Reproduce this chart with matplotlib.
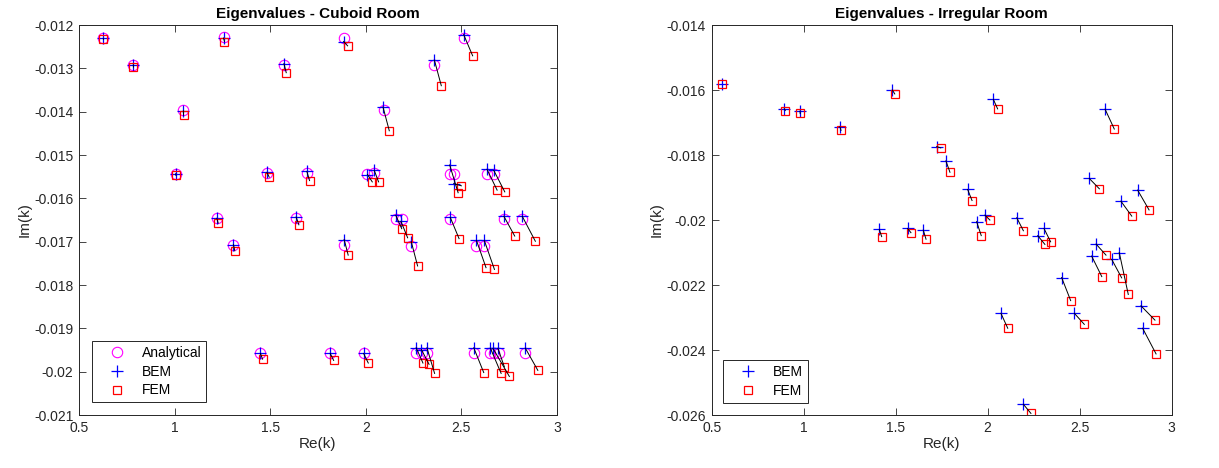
import numpy as np
import matplotlib
matplotlib.use('Agg')
import matplotlib.pyplot as plt
from matplotlib.ticker import FuncFormatter

plt.rcParams['font.family'] = ['Liberation Sans', 'DejaVu Sans']
plt.rcParams['axes.unicode_minus'] = False

# cuboid room: analytical, BEM, FEM eigenvalues
cub_ana_re = [0.627, 0.784, 1.046, 1.256, 1.570, 1.884, 2.093, 2.355, 2.512,
              1.006, 1.221, 1.308, 1.483, 1.636, 1.692, 1.887, 2.009, 2.044,
              2.157, 2.192, 2.238, 2.439, 2.460, 2.442, 2.634, 2.669, 2.579,
              2.620, 2.722, 2.818, 1.449, 1.814, 1.989, 2.264, 2.294, 2.320,
              2.565, 2.652, 2.669, 2.695, 2.835]
cub_ana_im = [-0.01231, -0.01292, -0.01396, -0.01228, -0.01292, -0.01229, -0.01396, -0.01292, -0.01229,
              -0.01543, -0.01645, -0.01708, -0.01541, -0.01645, -0.01541, -0.01708, -0.01543, -0.01541,
              -0.01647, -0.01647, -0.01709, -0.01543, -0.01543, -0.01647, -0.01543, -0.01543, -0.01710,
              -0.01710, -0.01647, -0.01647, -0.01958, -0.01958, -0.01958, -0.01958, -0.01958, -0.01958,
              -0.01958, -0.01958, -0.01958, -0.01958, -0.01958]
cub_bem_re = [0.627, 0.784, 1.046, 1.256, 1.572, 1.884, 2.090, 2.359, 2.512,
              1.006, 1.221, 1.308, 1.483, 1.636, 1.692, 1.887, 2.009, 2.044,
              2.157, 2.184, 2.238, 2.439, 2.460, 2.442, 2.634, 2.669, 2.579,
              2.620, 2.722, 2.818, 1.449, 1.814, 1.989, 2.264, 2.291, 2.320,
              2.565, 2.652, 2.665, 2.691, 2.835]
cub_bem_im = [-0.01231, -0.01292, -0.01398, -0.01230, -0.01289, -0.01238, -0.01389, -0.01281, -0.01222,
              -0.01543, -0.01646, -0.01707, -0.01540, -0.01643, -0.01538, -0.01695, -0.01545, -0.01535,
              -0.01639, -0.01653, -0.01700, -0.01523, -0.01566, -0.01644, -0.01533, -0.01535, -0.01697,
              -0.01697, -0.01641, -0.01641, -0.01958, -0.01958, -0.01958, -0.01945, -0.01949, -0.01945,
              -0.01945, -0.01946, -0.01946, -0.01946, -0.01946]
cub_fem_re = [0.628, 0.785, 1.047, 1.261, 1.584, 1.905, 2.123, 2.395, 2.559,
              1.007, 1.228, 1.315, 1.495, 1.650, 1.706, 1.908, 2.034, 2.067,
              2.188, 2.219, 2.271, 2.483, 2.500, 2.488, 2.687, 2.727, 2.629,
              2.673, 2.779, 2.887, 1.460, 1.832, 2.013, 2.299, 2.331, 2.360,
              2.617, 2.708, 2.751, 2.725, 2.900]
cub_fem_im = [-0.01233, -0.01297, -0.01408, -0.01238, -0.01310, -0.01248, -0.01444, -0.01340, -0.01271,
              -0.01547, -0.01657, -0.01721, -0.01551, -0.01661, -0.01559, -0.01731, -0.01562, -0.01562,
              -0.01670, -0.01691, -0.01756, -0.01587, -0.01571, -0.01693, -0.01581, -0.01585, -0.01760,
              -0.01764, -0.01687, -0.01699, -0.01971, -0.01974, -0.01980, -0.01980, -0.01983, -0.02004,
              -0.02002, -0.02004, -0.02011, -0.01989, -0.01997]

# irregular room: BEM, FEM eigenvalues
irr_bem_re = [0.554, 0.895, 0.980, 1.197, 1.482, 2.031, 2.638, 1.723, 1.773, 1.891,
              1.940, 1.985, 1.411, 1.565, 1.650, 2.158, 2.272, 2.306, 2.402, 2.552,
              2.589, 2.565, 2.674, 2.715, 2.724, 2.815, 2.833, 2.072, 2.471, 2.842, 2.194]
irr_bem_im = [-0.01582, -0.01658, -0.01665, -0.01713, -0.01600, -0.01629, -0.01659, -0.01774, -0.01818, -0.01906,
              -0.02005, -0.01985, -0.02029, -0.02026, -0.02031, -0.01993, -0.02048, -0.02026, -0.02177, -0.01872,
              -0.02074, -0.02111, -0.02121, -0.02100, -0.01942, -0.01908, -0.02264, -0.02287, -0.02287, -0.02333, -0.02567]
irr_fem_re = [0.554, 0.900, 0.981, 1.203, 1.495, 2.054, 2.688, 1.745, 1.795, 1.915,
              1.965, 2.012, 1.424, 1.583, 1.665, 2.194, 2.311, 2.342, 2.451, 2.607,
              2.643, 2.620, 2.728, 2.764, 2.783, 2.877, 2.909, 2.109, 2.525, 2.915, 2.235]
irr_fem_im = [-0.01582, -0.01663, -0.01672, -0.01724, -0.01612, -0.01658, -0.01720, -0.01778, -0.01853, -0.01940,
              -0.02048, -0.02000, -0.02051, -0.02039, -0.02059, -0.02033, -0.02075, -0.02067, -0.02248, -0.01904,
              -0.02108, -0.02174, -0.02178, -0.02229, -0.01988, -0.01969, -0.02308, -0.02333, -0.02321, -0.02412, -0.02595]

gray = '#262626'
fig = plt.figure(figsize=(12.19, 4.68), dpi=100)
ax1 = fig.add_axes([0.0648, 0.1132, 0.3921, 0.8333])
ax2 = fig.add_axes([0.5838, 0.1132, 0.3774, 0.8333])


def style(ax, yticks, title):
    ax.set_xlim(0.5, 3)
    ax.set_xticks([0.5, 1, 1.5, 2, 2.5, 3])
    ax.xaxis.set_major_formatter(FuncFormatter(lambda v, p: '%g' % v))
    ax.set_ylim(yticks[-1], yticks[0])
    ax.set_yticks(yticks)
    ax.yaxis.set_major_formatter(FuncFormatter(lambda v, p: '%g' % round(v, 4)))
    ax.tick_params(direction='in', length=5, width=0.6, top=True, right=True,
                   labelsize=10, colors=gray, pad=4)
    for s in ax.spines.values():
        s.set_color(gray)
        s.set_linewidth(0.7)
    ax.set_xlabel('Re(k)', fontsize=11, color=gray, labelpad=2)
    ax.set_ylabel('Im(k)', fontsize=11, color=gray, labelpad=2)
    ax.set_title(title, fontsize=11, fontweight='bold', pad=5)


def links(ax, x0, y0, x1, y1):
    # BEM -> FEM connectors
    for a, b, c, d in zip(x0, y0, x1, y1):
        ax.plot([a, c], [b, d], '-', color='k', lw=0.7, zorder=4)


ax1.plot(cub_ana_re, cub_ana_im, 'o', mfc='none', mec='#ff00ff', ms=7.5, mew=0.8, ls='none', label='Analytical')
ax1.plot(cub_bem_re, cub_bem_im, '+', color='#0000ff', ms=9, mew=0.9, ls='none', label='BEM')
ax1.plot(cub_fem_re, cub_fem_im, 's', mfc='none', mec='#ff0000', ms=5.5, mew=0.9, ls='none', label='FEM')
links(ax1, cub_bem_re, cub_bem_im, cub_fem_re, cub_fem_im)
style(ax1, [-0.012 - 0.001 * i for i in range(10)], 'Eigenvalues - Cuboid Room')

ax2.plot(irr_bem_re, irr_bem_im, '+', color='#0000ff', ms=9, mew=0.9, ls='none', label='BEM')
ax2.plot(irr_fem_re, irr_fem_im, 's', mfc='none', mec='#ff0000', ms=5.5, mew=0.9, ls='none', label='FEM')
links(ax2, irr_bem_re, irr_bem_im, irr_fem_re, irr_fem_im)
style(ax2, [-0.014 - 0.002 * i for i in range(7)], 'Eigenvalues - Irregular Room')

for ax, anchor in [(ax1, (0.0266, 0.0326)), (ax2, (0.0252, 0.0315))]:
    leg = ax.legend(loc='lower left', bbox_to_anchor=anchor, borderaxespad=0,
                    fontsize=10, fancybox=False, handlelength=2.9, handletextpad=0.35,
                    borderpad=0.35, labelspacing=0.35, framealpha=1)
    leg.get_frame().set_edgecolor(gray)
    leg.get_frame().set_linewidth(0.7)

fig.savefig('out.png', dpi=100)
